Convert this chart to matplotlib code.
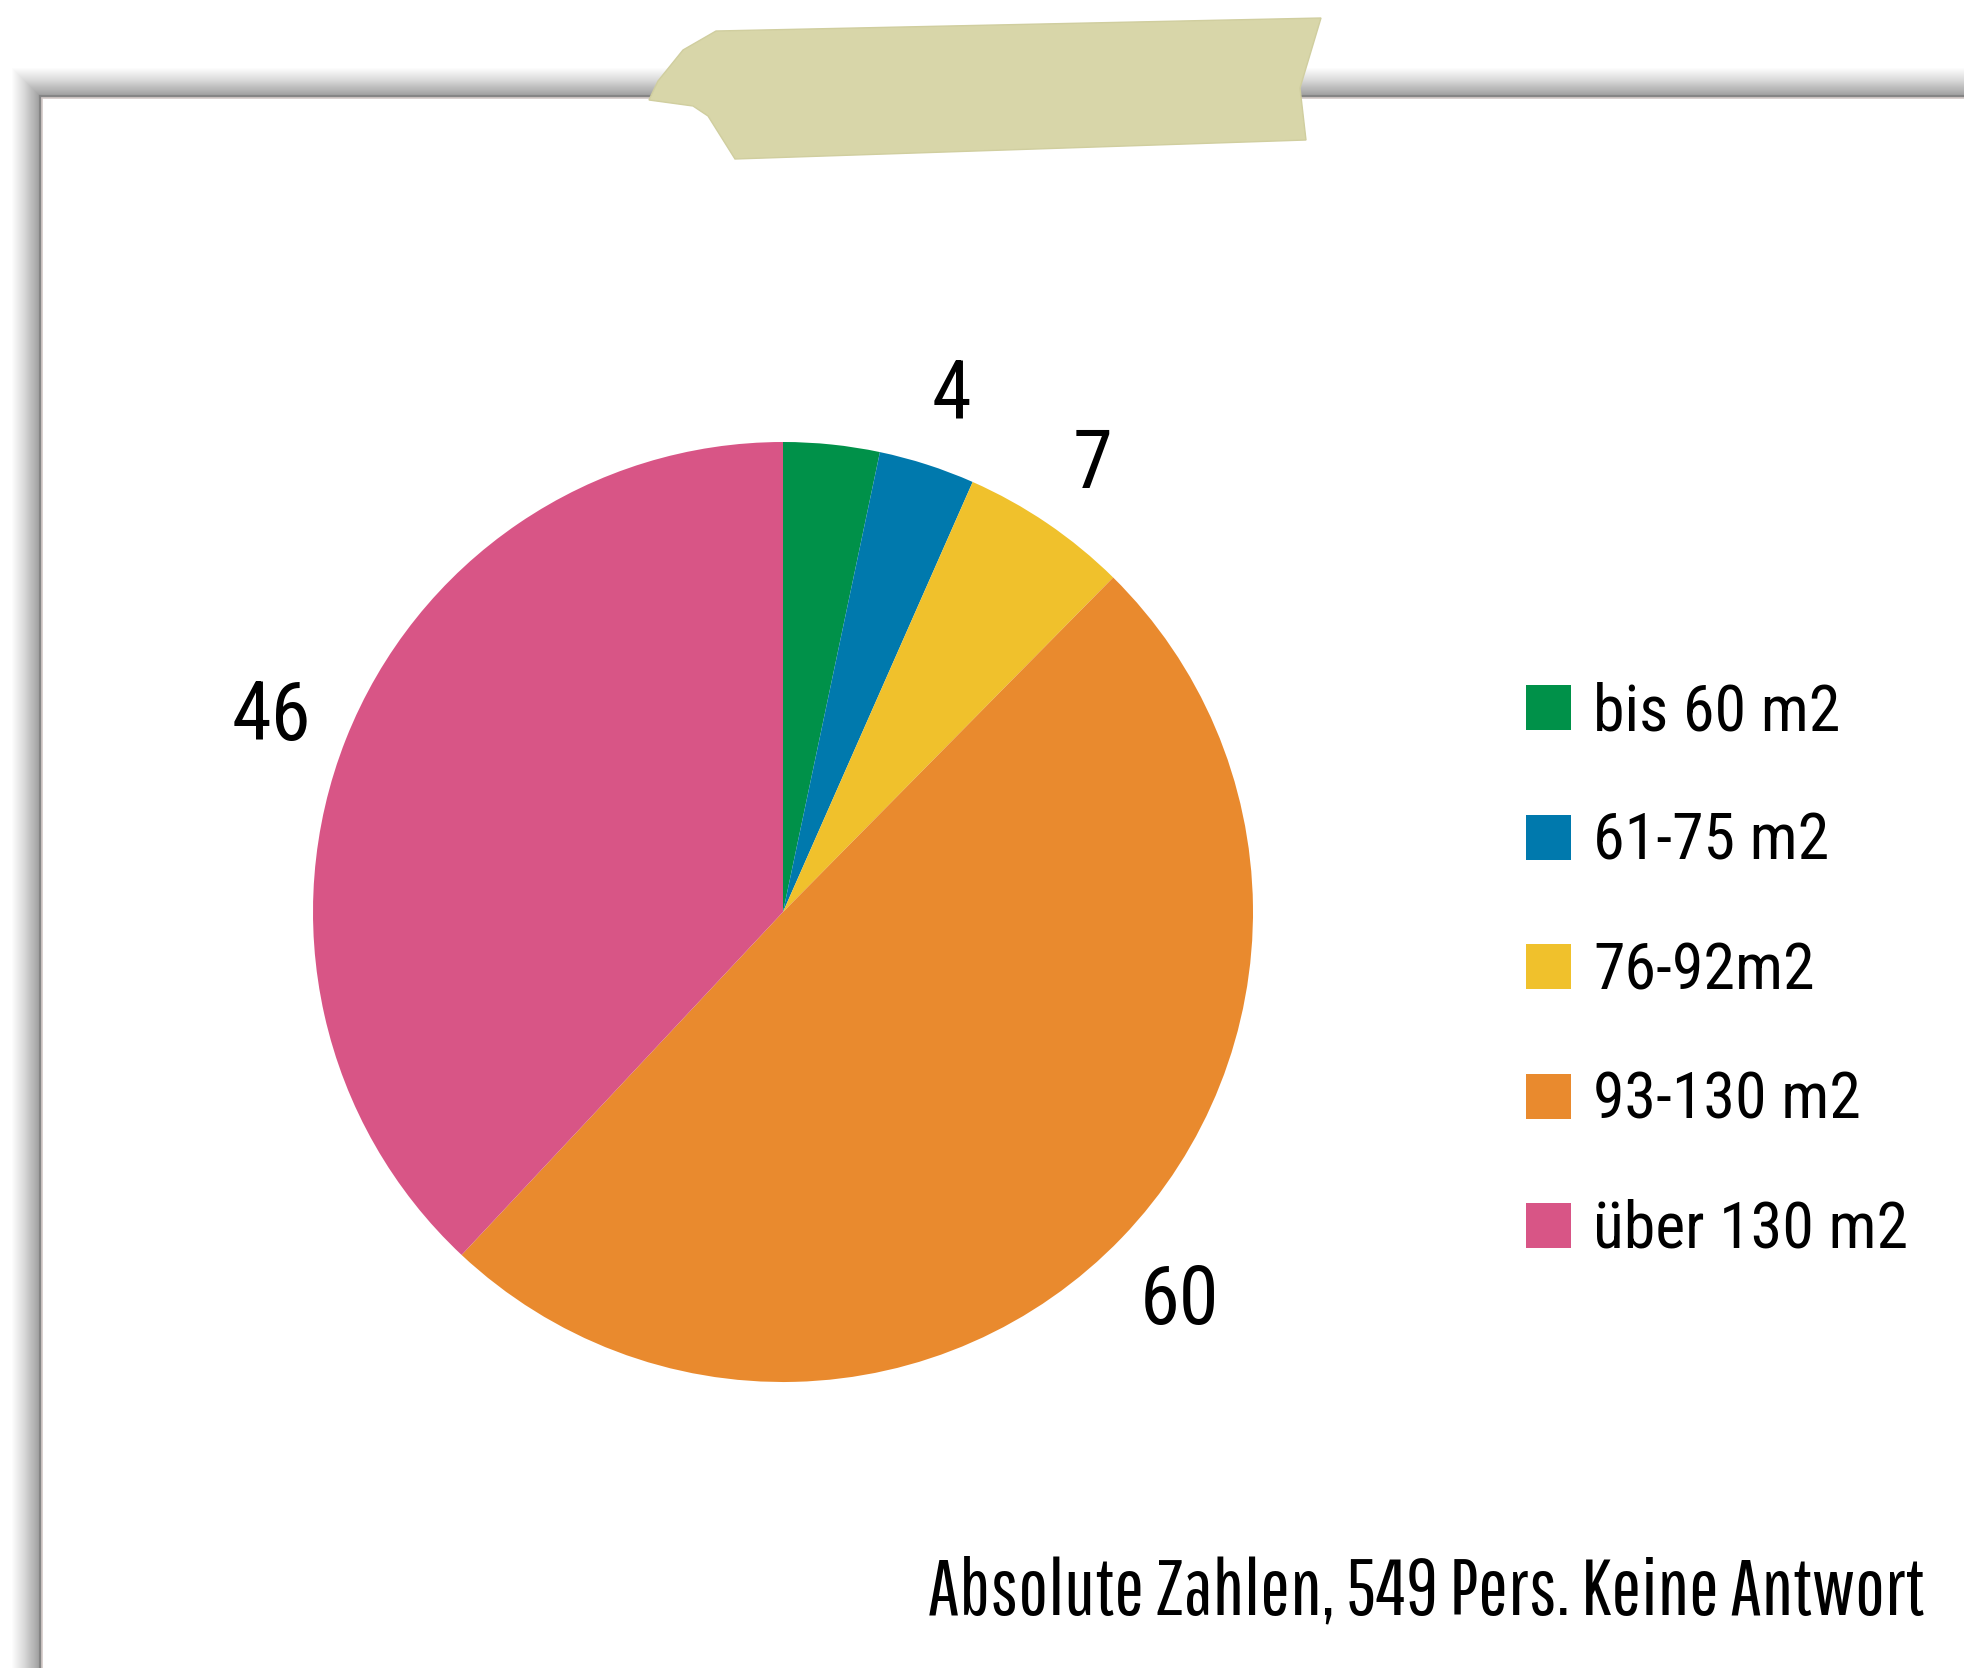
import matplotlib
matplotlib.use("Agg")
import matplotlib.pyplot as plt
from matplotlib.patches import Polygon, Rectangle

# Wohnfläche der Befragten
categories = ["bis 60 m2", "61-75 m2", "76-92m2", "93-130 m2", "über 130 m2"]
counts = [4, 4, 7, 60, 46]
show_value = [False, True, True, True, True]
colors = ["#009149", "#0079ad", "#f0c12c", "#e98a2e", "#d85586"]
note = "Absolute Zahlen, 549 Pers. Keine Antwort"

W, H = 1964, 1668
plt.rcParams["font.family"] = ["Roboto Condensed", "DejaVu Sans"]

fig = plt.figure(figsize=(W / 100, H / 100), dpi=100)
fig.patch.set_facecolor("white")

# background layer in pixel units (y downwards)
bg = fig.add_axes([0, 0, 1, 1])
bg.set_xlim(0, W)
bg.set_ylim(H, 0)
bg.axis("off")

# paper sheet with a soft shadow on the top and left edges
px, py = 42, 98
for i in range(30):
    a = 0.012 + 0.010 * (i / 29) ** 2
    off = 30 - i
    bg.add_patch(Rectangle((px - off, py - off), W, H, facecolor="black",
                           alpha=a, edgecolor="none", zorder=1))
bg.plot([px - 2, px - 2], [py - 2, H], color="#858585", lw=1.5, zorder=2)
bg.plot([px - 2, W], [py - 2, py - 2], color="#858585", lw=1.5, zorder=2)
bg.add_patch(Rectangle((px, py), W, H, facecolor="white",
                       edgecolor="#d3c9c7", lw=1.2, zorder=3))

# strip of tape holding the sheet
tape = [(716, 31), (1321, 18), (1300, 88), (1306, 140), (735, 159),
        (708, 116), (693, 106), (649, 100), (658, 81), (683, 50)]
bg.add_patch(Polygon(tape, closed=True, facecolor="#d8d6a9",
                     edgecolor="#d0ce9f", lw=1, zorder=5))

# pie chart
cx, cy, r = 783, 912, 470
half = 620
ax = fig.add_axes([(cx - half) / W, 1 - (cy + half) / H, 2 * half / W, 2 * half / H])
wedges, texts = ax.pie(counts, colors=colors, startangle=90, counterclock=False,
                       labels=[str(v) if s else "" for v, s in zip(counts, show_value)],
                       labeldistance=1.17,
                       wedgeprops=dict(linewidth=0),
                       textprops=dict(fontsize=58, color="black"))
ax.set_xlim(-half / r, half / r)
ax.set_ylim(-half / r, half / r)
ax.set_aspect("equal")
ax.axis("off")
for t in texts:
    t.set_horizontalalignment("center")
    t.set_verticalalignment("center_baseline")

# legend
lx, ly0, step = 1526, 685, 129.5
for i, (name, col) in enumerate(zip(categories, colors)):
    y = ly0 + i * step
    bg.add_patch(Rectangle((lx, y), 45, 45, facecolor=col, edgecolor="none", zorder=6))
    bg.text(1593, y + 45, name, fontsize=46, color="black", ha="left",
            va="baseline", zorder=6)

bg.text(1924, 1614, note, fontsize=57, color="black", ha="right",
        va="baseline", zorder=6, family=["Pathway Gothic One", "DejaVu Sans"])

fig.savefig("out.png", dpi=100, facecolor="white")
